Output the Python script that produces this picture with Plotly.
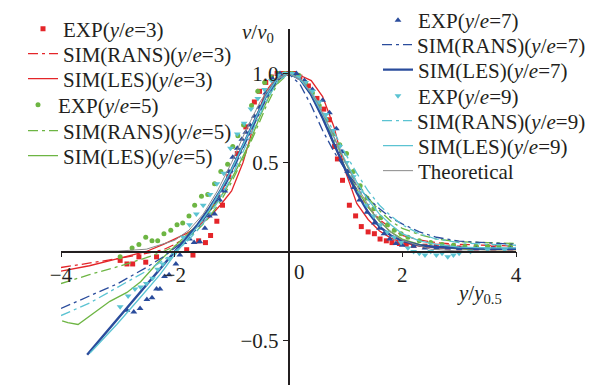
import plotly.graph_objects as go

# ---------------- data ----------------
# y/e = 3
exp3_x = [-2.96, -2.84, -2.74, -2.63, -2.51, -2.32, -1.79, -1.68, -1.58, -1.46, -1.37, -1.26, -1.16, -1.05,
          -0.9, -0.75, -0.6, -0.51, -0.4, -0.3, -0.2, -0.1, 0.0, 0.1, 0.2, 0.35, 0.5, 0.62, 0.72, 0.81, 0.86,
          0.95, 1.07, 1.18, 1.28, 1.4, 1.51, 1.61, 1.72, 1.82, 1.95, 2.07, 2.2, 2.4, 2.6, 2.8, 3.0, 3.3, 3.6, 3.9]
exp3_y = [-0.05, -0.07, -0.07, -0.03, -0.06, -0.03, 0.01, -0.02, 0.06, 0.05, 0.09, 0.17, 0.26, 0.42,
          0.55, 0.7, 0.84, 0.9, 0.95, 0.98, 1.0, 1.0, 1.0, 1.0, 0.98, 0.93, 0.86, 0.8, 0.74, 0.59, 0.52,
          0.40, 0.26, 0.20, 0.14, 0.11, 0.10, 0.07, 0.06, 0.05, 0.045, 0.04, 0.035, 0.03, 0.03, 0.025, 0.02, 0.02, 0.02, 0.02]

sim_x = [-4, -3.5, -3, -2.5, -2.2, -2, -1.8, -1.6, -1.4, -1.2, -1, -0.8, -0.6, -0.4, -0.2, 0,
         0.2, 0.4, 0.6, 0.8, 1, 1.2, 1.4, 1.6, 1.8, 2, 2.3, 2.6, 3, 3.5, 4]
rans3_y = [-0.09, -0.065, -0.04, -0.01, 0.01, 0.04, 0.08, 0.14, 0.22, 0.32, 0.45, 0.59, 0.74, 0.87, 0.97, 1.0,
           0.97, 0.88, 0.75, 0.6, 0.46, 0.34, 0.25, 0.18, 0.13, 0.09, 0.065, 0.05, 0.04, 0.035, 0.03]
les3_y = [-0.11, -0.08, -0.04, 0.0, 0.04, 0.07, 0.10, 0.14, 0.19, 0.26, 0.34, 0.50, 0.72, 0.90, 0.98, 1.0,
          0.99, 0.96, 0.87, 0.70, 0.45, 0.27, 0.18, 0.115, 0.075, 0.05, 0.03, 0.02, 0.015, 0.01, 0.01]

# y/e = 5
exp5_x = [-2.96, -2.75, -2.63, -2.51, -2.4, -2.3, -2.19, -2.07, -1.96, -1.86, -1.75, -1.65, -1.53, -1.42, -1.3,
          -1.19, -1.07, -0.98, -0.89, -0.79, -0.65, -0.54, -0.42, -0.3, -0.18, -0.06, 0.06, 0.18, 0.3, 0.42,
          0.54, 0.66, 0.78, 0.9, 1.02, 1.14, 1.26, 1.38, 1.5, 1.62, 1.74, 1.86, 1.98, 2.1, 2.3, 2.5, 2.7, 2.9,
          3.1, 3.3, 3.5, 3.7, 3.9]
exp5_y = [-0.03, 0.02, 0.04, 0.08, 0.06, 0.06, 0.10, 0.12, 0.15, 0.16, 0.20, 0.26, 0.31, 0.32, 0.38,
          0.45, 0.49, 0.59, 0.65, 0.71, 0.82, 0.90, 0.95, 0.98, 1.0, 1.0, 1.0, 0.99, 0.95, 0.89,
          0.82, 0.74, 0.66, 0.60, 0.55, 0.45, 0.37, 0.30, 0.24, 0.19, 0.15, 0.12, 0.10, 0.08, 0.06, 0.05, 0.04, 0.035,
          0.03, 0.03, 0.03, 0.03, 0.03]
rans5_y = [-0.18, -0.13, -0.085, -0.035, 0.0, 0.03, 0.07, 0.12, 0.19, 0.28, 0.39, 0.52, 0.66, 0.81, 0.94, 1.0,
           0.97, 0.88, 0.76, 0.63, 0.50, 0.39, 0.30, 0.23, 0.17, 0.13, 0.095, 0.07, 0.055, 0.05, 0.045]
les5_x = [-3.98, -3.88, -3.7, -3.44, -3.14, -2.84, -2.6, -2.32, -2.1, -1.9, -1.7, -1.5, -1.3, -1.1, -0.9, -0.7,
          -0.5, -0.3, -0.15, 0, 0.2, 0.4, 0.6, 0.8, 1, 1.2, 1.4, 1.6, 1.8, 2, 2.3, 2.6, 3, 3.5, 4]
les5_y = [-0.39, -0.40, -0.41, -0.35, -0.28, -0.23, -0.17, -0.07, 0.0, 0.06, 0.12, 0.18, 0.26, 0.35, 0.47, 0.60,
          0.76, 0.90, 0.97, 1.0, 0.97, 0.88, 0.75, 0.60, 0.47, 0.35, 0.25, 0.17, 0.11, 0.07, 0.04, 0.025, 0.015, 0.01, 0.01]

# y/e = 7
exp7_x = [-2.84, -2.72, -2.61, -2.49, -2.4, -2.32, -2.26, -2.18, -2.1, -1.98, -1.91, -1.84, -1.74, -1.66, -1.56,
          -1.47, -1.39, -1.3, -1.21, -1.12, -1.05, -0.98, -0.9, -0.82, -0.75, -0.68, -0.6, -0.51, -0.4, -0.28,
          -0.15, 0.0, 0.14, 0.28, 0.42, 0.6, 0.72, 0.84, 0.94, 1.04, 1.15, 1.25, 1.38, 1.51, 1.6, 1.68, 1.78,
          1.89, 2.0, 2.2, 2.4, 2.6, 2.8, 3.0, 3.3, 3.6, 3.9]
exp7_y = [-0.33, -0.34, -0.32, -0.27, -0.26, -0.21, -0.21, -0.14, -0.13, -0.07, -0.02, 0.05, 0.07, 0.05, 0.055,
          0.13, 0.20, 0.21, 0.29, 0.34, 0.45, 0.53, 0.58, 0.63, 0.67, 0.71, 0.76, 0.81, 0.89, 0.97,
          1.0, 1.0, 1.0, 0.96, 0.91, 0.85, 0.78, 0.69, 0.56, 0.45, 0.36, 0.29, 0.22, 0.16, 0.13, 0.10, 0.07,
          0.045, 0.035, 0.03, 0.02, 0.02, 0.02, 0.015, 0.015, 0.015, 0.015]
rans7_y = [-0.32, -0.25, -0.18, -0.09, -0.03, 0.02, 0.07, 0.13, 0.22, 0.32, 0.44, 0.58, 0.72, 0.85, 0.96, 1.0,
           0.94, 0.82, 0.68, 0.56, 0.46, 0.37, 0.30, 0.24, 0.19, 0.155, 0.11, 0.08, 0.058, 0.047, 0.04]
les7_x = [-3.54, -3.14, -2.74, -2.39, -2.04, -1.8, -1.6, -1.4, -1.2, -1, -0.8, -0.6, -0.4, -0.2, 0,
          0.2, 0.4, 0.6, 0.8, 1, 1.2, 1.4, 1.6, 1.8, 2, 2.3, 2.6, 3, 3.5, 4]
les7_y = [-0.58, -0.43, -0.28, -0.15, -0.02, 0.07, 0.15, 0.24, 0.34, 0.46, 0.60, 0.74, 0.87, 0.97, 1.0,
          0.97, 0.88, 0.75, 0.60, 0.46, 0.33, 0.22, 0.14, 0.09, 0.06, 0.035, 0.025, 0.02, 0.015, 0.015]

# y/e = 9
exp9_x = [-2.96, -2.82, -2.7, -2.6, -2.5, -2.39, -2.3, -2.21, -2.1, -2.0, -1.85, -1.74, -1.62, -1.5, -1.38,
          -1.26, -1.14, -1.02, -0.9, -0.78, -0.66, -0.54, -0.42, -0.3, -0.18, -0.06, 0.06, 0.18, 0.3, 0.42,
          0.54, 0.66, 0.78, 0.9, 1.02, 1.14, 1.26, 1.38, 1.5, 1.62, 1.74, 1.86, 1.98, 2.1, 2.2, 2.3, 2.4,
          2.5, 2.6, 2.7, 2.8, 2.9, 3.0, 3.2, 3.5, 3.8]
exp9_y = [-0.31, -0.25, -0.21, -0.20, -0.18, -0.15, -0.10, -0.07, -0.04, -0.01, 0.08, 0.15, 0.21, 0.26, 0.32,
          0.38, 0.44, 0.58, 0.66, 0.72, 0.80, 0.86, 0.91, 0.96, 0.99, 1.0, 1.0, 0.98, 0.95, 0.90,
          0.84, 0.77, 0.68, 0.59, 0.50, 0.42, 0.33, 0.26, 0.20, 0.15, 0.11, 0.08, 0.05, 0.02, 0.0, -0.01, -0.02,
          0.0, -0.02, -0.01, -0.03, -0.02, -0.01, 0.0, 0.01, 0.01]
rans9_y = [-0.36, -0.29, -0.20, -0.11, -0.05, 0.0, 0.05, 0.12, 0.20, 0.30, 0.42, 0.56, 0.70, 0.84, 0.95, 1.0,
           0.97, 0.90, 0.79, 0.67, 0.55, 0.44, 0.34, 0.26, 0.20, 0.15, 0.10, 0.07, 0.05, 0.04, 0.035]
les9_x = [-3.49, -3.02, -2.61, -2.26, -1.96, -1.8, -1.6, -1.4, -1.2, -1, -0.8, -0.6, -0.4, -0.2, 0,
          0.2, 0.4, 0.6, 0.8, 1, 1.2, 1.4, 1.6, 1.8, 2, 2.3, 2.6, 3, 3.5, 4]
les9_y = [-0.57, -0.41, -0.26, -0.13, 0.0, 0.06, 0.14, 0.23, 0.34, 0.46, 0.60, 0.74, 0.87, 0.97, 1.0,
          0.97, 0.89, 0.77, 0.64, 0.51, 0.39, 0.29, 0.21, 0.15, 0.10, 0.06, 0.04, 0.025, 0.02, 0.02]

# theoretical profile
theo_x = [-4, -3, -2.5, -2, -1.75, -1.5, -1.25, -1, -0.75, -0.5, -0.25, 0,
          0.25, 0.5, 0.75, 1, 1.25, 1.5, 1.75, 2, 2.5, 3, 4]
theo_y = [0.0, 0.002, 0.013, 0.063, 0.12, 0.21, 0.34, 0.5, 0.68, 0.84, 0.96, 1.0,
          0.96, 0.84, 0.68, 0.5, 0.34, 0.21, 0.12, 0.063, 0.013, 0.002, 0.0]

x_tickvals = [-4, -2, 2, 4]
x_ticktext = ["\u22124", "\u22122", "2", "4"]
y_tickvals = [-0.5, 0.5, 1.0]
y_ticktext = ["\u22120.5", "0.5", "1.0"]

# ---------------- styling ----------------
RED = "#E42529"
GREEN = "#6DB543"
BLUE = "#2A4C9C"
CYAN = "#5BC3D2"
GRAY = "#8A8A8A"
DASHDOT = "10px,4px,3px,4px"
FONT = "Liberation Serif"
FS = 21

W, H = 591, 385
ML, MR, MT, MB = 61, 74, 28, 0
XR = [-4, 4]
YR = [-0.75, 1.25]
PW = W - ML - MR
PH = H - MT - MB


def lab(kind, n):
    return f"{kind}(<i>y</i>/<i>e</i>={n})"


traces = [
    # (name, x, y, mode, color, dash, width, symbol, size, legend px x, legend px y)
    (lab("EXP", 3), exp3_x, exp3_y, "markers", RED, None, 1, "square", 5, 23, 29),
    (lab("SIM(RANS)", 3), sim_x, rans3_y, "lines", RED, DASHDOT, 1.3, None, 0, 23, 54),
    (lab("SIM(LES)", 3), sim_x, les3_y, "lines", RED, "solid", 1.3, None, 0, 23, 79),
    (lab("EXP", 5), exp5_x, exp5_y, "markers", GREEN, None, 1, "circle", 5, 18, 105),
    (lab("SIM(RANS)", 5), sim_x, rans5_y, "lines", GREEN, DASHDOT, 1.3, None, 0, 23, 131),
    (lab("SIM(LES)", 5), les5_x, les5_y, "lines", GREEN, "solid", 1.3, None, 0, 23, 156),
    (lab("EXP", 7), exp7_x, exp7_y, "markers", BLUE, None, 1, "triangle-up", 6, 378, 19),
    (lab("SIM(RANS)", 7), sim_x, rans7_y, "lines", BLUE, DASHDOT, 1.3, None, 0, 378, 45),
    (lab("SIM(LES)", 7), les7_x, les7_y, "lines", BLUE, "solid", 2.4, None, 0, 378, 70),
    (lab("EXP", 9), exp9_x, exp9_y, "markers", CYAN, None, 1, "triangle-down", 6, 378, 96),
    (lab("SIM(RANS)", 9), sim_x, rans9_y, "lines", CYAN, DASHDOT, 1.3, None, 0, 378, 121),
    (lab("SIM(LES)", 9), les9_x, les9_y, "lines", CYAN, "solid", 1.3, None, 0, 378, 146),
    ("Theoretical", theo_x, theo_y, "lines", GRAY, "solid", 1.0, None, 0, 378, 171),
]

fig = go.Figure()
legends = {}
for i, (name, xs, ys, mode, color, dash, width, symbol, size, lx, ly) in enumerate(traces):
    key = "legend" if i == 0 else f"legend{i + 1}"
    kw = dict(x=xs, y=ys, name=name, mode=mode, legend=key, showlegend=True)
    if mode == "markers":
        kw["marker"] = dict(symbol=symbol, size=size, color=color, line=dict(width=0))
    else:
        kw["line"] = dict(color=color, width=width, dash=dash)
    fig.add_trace(go.Scatter(**kw))
    legends[key] = dict(
        x=(lx - ML) / PW, y=(H - MB - ly) / PH, xanchor="left", yanchor="middle",
        bgcolor="rgba(0,0,0,0)", borderwidth=0,
        font=dict(family=FONT, size=FS, color="#231F20"),
    )

fig.update_layout(
    width=W, height=H,
    margin=dict(l=ML, r=MR, t=MT, b=MB, pad=0),
    paper_bgcolor="white", plot_bgcolor="white",
    font=dict(family=FONT, size=FS, color="#231F20"),
    xaxis=dict(
        range=XR, domain=[0, 1], anchor="free", position=(0 - YR[0]) / (YR[1] - YR[0]),
        showgrid=False, zeroline=False, showline=True, linecolor="#231F20", linewidth=1.5,
        ticks="outside", ticklen=5, tickwidth=1, tickcolor="#231F20",
        tickvals=x_tickvals, ticktext=x_ticktext, tickfont=dict(family=FONT, size=FS),
    ),
    yaxis=dict(
        range=YR, domain=[0, 1], anchor="free", position=(0 - XR[0]) / (XR[1] - XR[0]),
        showgrid=False, zeroline=False, showline=True, linecolor="#231F20", linewidth=1.5,
        ticks="outside", ticklen=5, tickwidth=1, tickcolor="#231F20",
        tickvals=y_tickvals, ticktext=y_ticktext, tickfont=dict(family=FONT, size=FS),
    ),
    annotations=[
        dict(x=0, y=0, xref="x", yref="y", text="0", showarrow=False, xanchor="left", yanchor="top",
             xshift=3, yshift=-6, font=dict(family=FONT, size=FS)),
        dict(x=-0.53, y=1.227, xref="x", yref="y", text="<i>v</i>/<i>v</i><sub>0</sub>", showarrow=False,
             xanchor="center", yanchor="middle", font=dict(family=FONT, size=FS)),
        dict(x=3.35, y=-0.24, xref="x", yref="y", text="<i>y</i>/<i>y</i><sub>0.5</sub>", showarrow=False,
             xanchor="center", yanchor="middle", font=dict(family=FONT, size=FS)),
    ],
    **legends,
)

fig.write_html("out.html")
